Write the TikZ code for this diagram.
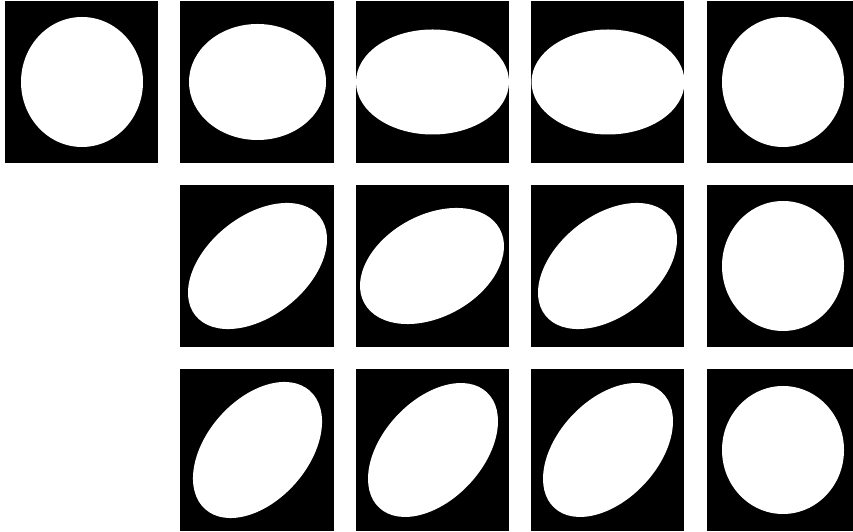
\documentclass[tikz,border=0pt]{standalone}
\begin{document}
\begin{tikzpicture}[x=1pt,y=1pt,
  cellbox/.style={fill=black},
  blob/.style={fill=white}]
\useasboundingbox (0,0) rectangle (853,532);
% squares
\fill[cellbox] (5,369) rectangle (158,531);
\foreach \xa/\xb in {180/334,356/509,531/684,707/853}{
  \foreach \ya/\yb in {369/531,185/347,1/163}{
    \fill[cellbox] (\xa,\ya) rectangle (\xb,\yb);
  }
}
% row 1
\begin{scope}\clip (5,369) rectangle (158,531);
  \fill[blob] (82,450) ellipse [x radius=61, y radius=65];\end{scope}
\begin{scope}\clip (180,369) rectangle (334,531);
  \fill[blob] (257.5,450) ellipse [x radius=68.5, y radius=58];\end{scope}
\begin{scope}\clip (356,369) rectangle (509,531);
  \fill[blob] (432.5,450) ellipse [x radius=76.5, y radius=52.5];\end{scope}
\begin{scope}\clip (531,369) rectangle (684,531);
  \fill[blob] (608,450) ellipse [x radius=76.5, y radius=52.5];\end{scope}
\begin{scope}\clip (707,369) rectangle (853,531);
  \fill[blob] (783,450) ellipse [x radius=61, y radius=65];\end{scope}
% row 2
\begin{scope}\clip (180,185) rectangle (334,347);
  \fill[blob,rotate around={38.5:(257.5,266)}] (257.5,266) ellipse [x radius=79.4, y radius=50];\end{scope}
\begin{scope}\clip (356,185) rectangle (509,347);
  \fill[blob,rotate around={28.7:(432,266)}] (432,266) ellipse [x radius=77.2, y radius=50.9];\end{scope}
\begin{scope}\clip (531,185) rectangle (684,347);
  \fill[blob,rotate around={38.5:(607.5,266)}] (607.5,266) ellipse [x radius=79.4, y radius=50];\end{scope}
\begin{scope}\clip (707,185) rectangle (853,347);
  \fill[blob] (783,266) ellipse [x radius=61, y radius=65];\end{scope}
% row 3
\begin{scope}\clip (180,1) rectangle (334,163);
  \fill[blob,rotate around={48.6:(257.5,82)}] (257.5,82) ellipse [x radius=79, y radius=50.5];\end{scope}
\begin{scope}\clip (356,1) rectangle (509,163);
  \fill[blob,rotate around={47:(433,82)}] (433,82) ellipse [x radius=78.9, y radius=49.8];\end{scope}
\begin{scope}\clip (531,1) rectangle (684,163);
  \fill[blob,rotate around={47:(608,82)}] (608,82) ellipse [x radius=78.9, y radius=49.8];\end{scope}
\begin{scope}\clip (707,1) rectangle (853,163);
  \fill[blob] (783,82) ellipse [x radius=61, y radius=64];\end{scope}
\end{tikzpicture}
\end{document}
